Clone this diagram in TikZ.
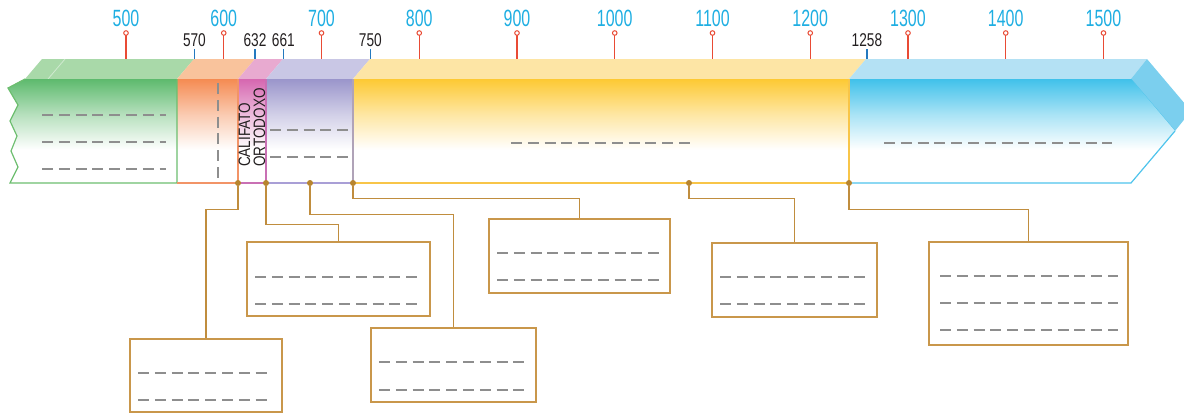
\documentclass[tikz,border=0pt]{standalone}
\usepackage{fontspec}
\setmainfont{Liberation Sans}
\usetikzlibrary{calc}
\definecolor{gtop}{HTML}{A9D9A9}\definecolor{gfront}{HTML}{5DBA6D}\definecolor{gline}{HTML}{6DBE6F}
\definecolor{otop}{HTML}{F9C39C}\definecolor{ofront}{HTML}{F58B52}\definecolor{oline}{HTML}{F29467}
\definecolor{ptop}{HTML}{E8AAD0}\definecolor{pfront}{HTML}{D667B0}\definecolor{pline}{HTML}{C970B4}
\definecolor{vtop}{HTML}{C9C7E5}\definecolor{vfront}{HTML}{9A95CB}\definecolor{vline}{HTML}{B0A3B8}\definecolor{vbot}{HTML}{A99FD6}
\definecolor{ytop}{HTML}{FDE5A5}\definecolor{yfront}{HTML}{FDC933}\definecolor{yline}{HTML}{F8C548}
\definecolor{btop}{HTML}{B4E1F4}\definecolor{bfront}{HTML}{40C1EA}\definecolor{bside}{HTML}{7BCFEE}\definecolor{bline}{HTML}{4FC4EC}
\definecolor{labblue}{HTML}{1EAEE2}\definecolor{tickred}{HTML}{E94B35}\definecolor{tickblue}{HTML}{2479BF}
\definecolor{ink}{HTML}{231F20}\definecolor{gold}{HTML}{C08D3E}\definecolor{boxc}{HTML}{C9974B}
\definecolor{dotc}{HTML}{B8852F}\definecolor{phc}{HTML}{8E8E8E}
\colorlet{gmid}{gfront!45!white}\colorlet{omid}{ofront!45!white}\colorlet{pmid}{pfront!45!white}
\colorlet{vmid}{vfront!45!white}\colorlet{ymid}{yfront!45!white}\colorlet{bmid}{bfront!45!white}
\pgfdeclareverticalshading{gsh}{100bp}{color(0bp)=(white); color(25bp)=(white); color(41bp)=(white); color(58bp)=(gmid); color(75bp)=(gfront); color(100bp)=(gfront)}
\pgfdeclareverticalshading{osh}{100bp}{color(0bp)=(white); color(25bp)=(white); color(41bp)=(white); color(58bp)=(omid); color(75bp)=(ofront); color(100bp)=(ofront)}
\pgfdeclareverticalshading{psh}{100bp}{color(0bp)=(white); color(25bp)=(white); color(41bp)=(white); color(58bp)=(pmid); color(75bp)=(pfront); color(100bp)=(pfront)}
\pgfdeclareverticalshading{vsh}{100bp}{color(0bp)=(white); color(25bp)=(white); color(41bp)=(white); color(58bp)=(vmid); color(75bp)=(vfront); color(100bp)=(vfront)}
\pgfdeclareverticalshading{ysh}{100bp}{color(0bp)=(white); color(25bp)=(white); color(41bp)=(white); color(58bp)=(ymid); color(75bp)=(yfront); color(100bp)=(yfront)}
\pgfdeclareverticalshading{bsh}{100bp}{color(0bp)=(white); color(25bp)=(white); color(41bp)=(white); color(58bp)=(bmid); color(75bp)=(bfront); color(100bp)=(bfront)}
\newcommand\condA[1]{\scalebox{0.68}[1]{#1}}
\newcommand\condB[1]{\scalebox{0.74}[1]{#1}}
\newcommand\condC[1]{\scalebox{0.82}[1]{#1}}
\begin{document}
\begin{tikzpicture}[x=1pt,y=-1pt,
  ph/.style={draw=phc,line width=2pt,dash pattern=on 11pt off 5.8pt},
  conn/.style={draw=gold,line width=1.3pt},
  infobox/.style={draw=boxc,line width=1.4pt,fill=white,inner sep=0pt,rectangle},
  dot/.style={circle,fill=dotc,inner sep=0pt,minimum size=6pt},
  yearlab/.style={text=labblue,inner sep=0pt,font=\fontsize{23.5}{23.5}\selectfont},
  datelab/.style={text=ink,inner sep=0pt,font=\fontsize{18.5}{18.5}\selectfont},
  edge/.style={line width=1.2pt}]
\useasboundingbox (0,0) rectangle (1184,413);
\begin{scope}
\clip (0,0) rectangle (1184,413);
% top faces
\fill[gtop] (25,79) -- (42,59) -- (194,59) -- (177,79) -- cycle;
\draw[white,opacity=.45,line width=0.8pt] (48,79) -- (65,59);
\fill[otop] (177,79) -- (194,59) -- (255,59) -- (238,79) -- cycle;
\fill[ptop] (238,79) -- (255,59) -- (283,59) -- (266,79) -- cycle;
\fill[vtop] (266,79) -- (283,59) -- (370,59) -- (353,79) -- cycle;
\fill[ytop] (353,79) -- (370,59) -- (866,59) -- (849,79) -- cycle;
\fill[btop] (849,79) -- (866,59) -- (1147,59) -- (1131,79) -- cycle;
\fill[bside] (1131,79) -- (1147,59) -- (1191,111) -- (1175,131) -- cycle;
\draw[bline,line width=0.8pt] (1131,79) -- (1175,131);
% front faces
\shade[shading=gsh] (25,79) -- (8,88) -- (18,105) -- (10,121) -- (17,136) -- (11,151) -- (18,167) -- (10,183) -- (177,183) -- (177,79) -- cycle;
\shade[shading=osh] (177,79) rectangle (238,183);
\shade[shading=psh] (238,79) rectangle (266,183);
\shade[shading=vsh] (266,79) rectangle (353,183);
\shade[shading=ysh] (353,79) rectangle (849,183);
\shade[shading=bsh] (849,79) -- (1131,79) -- (1175,131) -- (1131,183) -- (849,183) -- cycle;
% edges
\draw[edge,gline] (25,79) -- (8,88) -- (18,105) -- (10,121) -- (17,136) -- (11,151) -- (18,167) -- (10,183) -- (177,183) -- (177,79);
\draw[edge,oline] (177,183) -- (238,183) -- (238,79);
\draw[edge,pline] (238,183) -- (266,183) -- (266,79);
\draw[edge,vbot] (266,183) -- (353,183);
\draw[edge,vline] (353,183) -- (353,79);
\draw[edge,yline] (353,183) -- (849,183) -- (849,79);
\draw[edge,bline] (849,183) -- (1131,183) -- (1175,131);
\end{scope}
% dashed placeholders in the bar
\foreach \yy in {115,142,169} \draw[ph] (42,\yy) -- (166,\yy);
\draw[ph] (218,83) -- (218,178);
\foreach \yy in {130,157} \draw[ph] (270,\yy) -- (349,\yy);
\draw[ph] (511,143) -- (692,143);
\draw[ph] (884,143) -- (1112,143);
% califato
\node[rotate=90,anchor=base west,inner sep=0pt,text=ink,font=\fontsize{16.5}{16.5}\selectfont] (cal) at (250,167) {\condC{CALIFATO}};
\node[rotate=90,anchor=base west,inner sep=0pt,text=ink,font=\fontsize{16.5}{16.5}\selectfont] (ort) at (265,167) {\condC{ORTODOXO}};
% century ticks
\foreach \yr in {500,600,...,1500}{
  \pgfmathsetmacro{\xx}{126+(\yr-500)*0.9775}
  \draw[tickred,line width=1.2pt] (\xx,35.3) -- (\xx,59);
  \draw[tickred,line width=1pt,fill=white] (\xx,33) circle (2.3pt);
  \node[yearlab] (y\yr) at (\xx,18.5) {\condA{\yr}};
}
% date ticks
\foreach \yr in {570,632,661,750,1258}{
  \pgfmathsetmacro{\xx}{126+(\yr-500)*0.9775}
  \draw[tickblue,line width=1.6pt] (\xx,49) -- (\xx,59);
  \node[datelab] (t\yr) at (\xx,40) {\condB{\yr}};
}
% info boxes
\node[infobox,minimum width=152pt,minimum height=73pt] (bA) at (206,375.5) {};
\node[infobox,minimum width=183pt,minimum height=74pt] (bB) at (338.5,279) {};
\node[infobox,minimum width=165pt,minimum height=74pt] (bC) at (453.5,365) {};
\node[infobox,minimum width=181pt,minimum height=74pt] (bD) at (579.5,256) {};
\node[infobox,minimum width=165pt,minimum height=74pt] (bE) at (794.5,280) {};
\node[infobox,minimum width=199pt,minimum height=103pt] (bF) at (1028.5,293.5) {};
\foreach \yy in {373,400} \draw[ph] (138,\yy) -- (269,\yy);
\foreach \yy in {277,304} \draw[ph] (255,\yy) -- (420,\yy);
\foreach \yy in {362,390} \draw[ph] (379,\yy) -- (527,\yy);
\foreach \yy in {253,280} \draw[ph] (497,\yy) -- (661,\yy);
\foreach \yy in {277,304} \draw[ph] (720,\yy) -- (868,\yy);
\foreach \yy in {276,303,330} \draw[ph] (940,\yy) -- (1118,\yy);
% dots
\node[dot] (d1) at (238,183) {};
\node[dot] (d2) at (266,183) {};
\node[dot] (d3) at (310,183) {};
\node[dot] (d4) at (353,183) {};
\node[dot] (d5) at (689,183) {};
\node[dot] (d6) at (849,183) {};
% connectors
\draw[conn] (d1.south) -- ++(0,23) -| (bA.north);
\draw[conn] (d2.south) -- ++(0,38) -| (bB.north);
\draw[conn] (d3.south) -- ++(0,28) -| (bC.north);
\draw[conn] (d4.south) -- ++(0,12) -| (bD.north);
\draw[conn] (d5.south) -- ++(0,12) -| (bE.north);
\draw[conn] (d6.south) -- ++(0,23) -| (bF.north);
\end{tikzpicture}
\end{document}
